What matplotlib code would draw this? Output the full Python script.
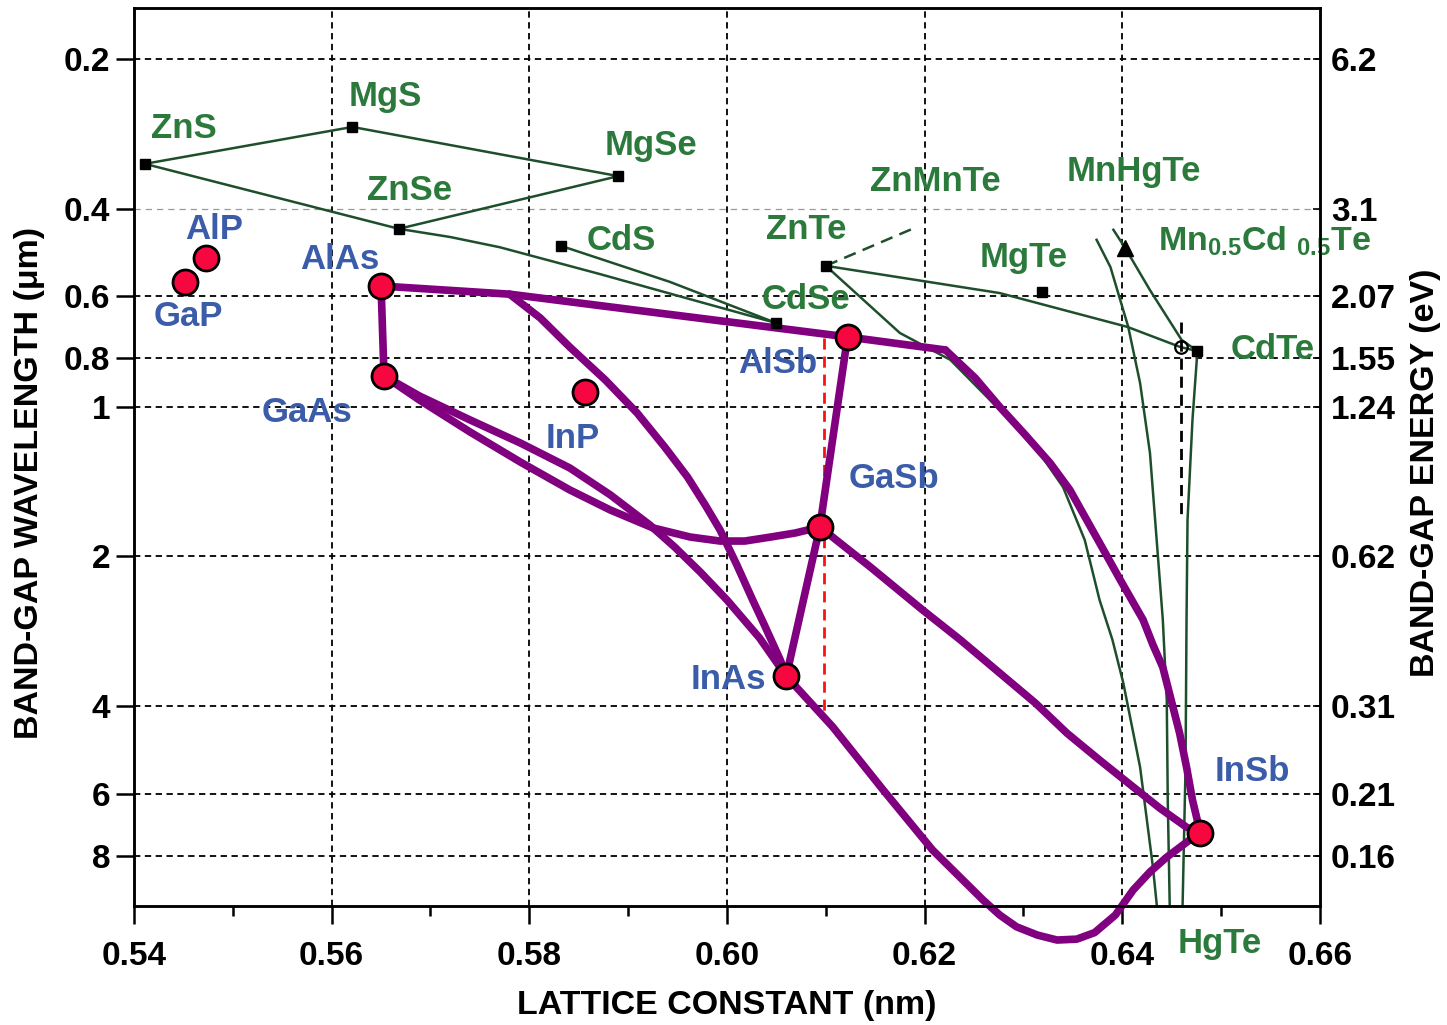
import numpy as np
import matplotlib.pyplot as plt
from matplotlib.ticker import FixedLocator, NullLocator

plt.rcParams['font.family'] = ['Liberation Sans', 'DejaVu Sans']
plt.rcParams['font.weight'] = 'bold'
plt.rcParams['mathtext.default'] = 'regular'

# axis ticks
wl_ticks = [0.2, 0.4, 0.6, 0.8, 1, 2, 4, 6, 8]
wl_labels = ['0.2', '0.4', '0.6', '0.8', '1', '2', '4', '6', '8']
ev_labels = ['6.2', '3.1', '2.07', '1.55', '1.24', '0.62', '0.31', '0.21', '0.16']
a_ticks = [0.54, 0.56, 0.58, 0.60, 0.62, 0.64, 0.66]
a_labels = ['0.54', '0.56', '0.58', '0.60', '0.62', '0.64', '0.66']
a_minor = [0.55, 0.57, 0.59, 0.61, 0.63, 0.65]

# III-V binaries (lattice constant nm, band-gap wavelength um)
iii_v_names = ['GaP', 'AlP', 'AlAs', 'GaAs', 'InP', 'AlSb', 'GaSb', 'InAs', 'InSb']
iii_v_a = [0.5452, 0.5473, 0.5650, 0.5653, 0.5856, 0.6122, 0.6094, 0.6060, 0.6479]
iii_v_wl = [0.561, 0.502, 0.572, 0.867, 0.934, 0.724, 1.745, 3.48, 7.19]
iii_v_lab_a = [0.5455, 0.5481, 0.5608, 0.5575, 0.5844, 0.6051, 0.6169, 0.6001, 0.6532]
iii_v_lab_wl = [0.660, 0.441, 0.507, 1.025, 1.156, 0.817, 1.391, 3.54, 5.42]

# II-VI binaries (square markers)
ii_vi_names = ['ZnS', 'MgS', 'MgSe', 'ZnSe', 'CdS', 'CdSe', 'ZnTe', 'MgTe', 'CdTe']
ii_vi_a = [0.5411, 0.5621, 0.5890, 0.5668, 0.5832, 0.6050, 0.6100, 0.6319, 0.6476]
ii_vi_wl = [0.325, 0.274, 0.344, 0.439, 0.475, 0.679, 0.521, 0.588, 0.773]

# green labels
green_names = ['ZnS', 'MgS', 'MgSe', 'ZnSe', 'CdS', 'ZnTe', 'ZnMnTe', 'MnHgTe',
               'MgTe', 'CdSe', 'CdTe', 'HgTe']
green_lab_a = [0.5450, 0.5654, 0.5923, 0.5679, 0.5893, 0.6080, 0.6211, 0.6412,
               0.6300, 0.6080, 0.6552, 0.6499]
green_lab_wl = [0.2766, 0.2384, 0.299, 0.367, 0.464, 0.441, 0.353, 0.336,
                0.502, 0.610, 0.769, 12.0]

mncdte_a, mncdte_wl = 0.6403, 0.480
open_a, open_wl = 0.6459, 0.759

# purple III-V alloy curves
top_a = [0.5650, 0.5780, 0.6122, 0.6221]
top_wl = [0.572, 0.594, 0.724, 0.769]
alsb_insb_a = [0.6221, 0.6251, 0.6276, 0.6302, 0.6327, 0.6347, 0.6364, 0.6381, 0.6398,
               0.6421, 0.6431, 0.6441, 0.6458, 0.6465, 0.6471, 0.6479]
alsb_insb_wl = [0.769, 0.875, 1.001, 1.140, 1.298, 1.47, 1.689, 1.94, 2.23,
                2.68, 3.01, 3.34, 4.53, 5.30, 6.17, 7.19]
alas_gaas_a = [0.5650, 0.5653]
alas_gaas_wl = [0.572, 0.867]
gaas_inas_a = [0.5653, 0.5689, 0.5740, 0.5791, 0.5841, 0.5882, 0.5922, 0.5947,
               0.5973, 0.6000, 0.6033, 0.6060]
gaas_inas_wl = [0.867, 0.952, 1.063, 1.183, 1.328, 1.504, 1.729, 1.914,
                2.149, 2.446, 2.917, 3.48]
gaas_gasb_a = [0.5653, 0.5689, 0.5740, 0.5791, 0.5841, 0.5882, 0.5925, 0.5963,
               0.5993, 0.6018, 0.6044, 0.6069, 0.6094]
gaas_gasb_wl = [0.867, 0.970, 1.124, 1.292, 1.47, 1.613, 1.752, 1.828,
                1.862, 1.862, 1.828, 1.794, 1.745]
kink_inas_a = [0.5780, 0.5811, 0.5841, 0.5877, 0.5909, 0.5937, 0.5960, 0.5978,
               0.5993, 0.6010, 0.6026, 0.6038, 0.6054, 0.6060]
kink_inas_wl = [0.594, 0.663, 0.759, 0.884, 1.029, 1.205, 1.384, 1.576,
                1.769, 2.08, 2.446, 2.75, 3.23, 3.48]
alsb_gasb_a = [0.6122, 0.6094]
alsb_gasb_wl = [0.724, 1.745]
gasb_inas_a = [0.6094, 0.6060]
gasb_inas_wl = [1.745, 3.48]
gasb_insb_a = [0.6094, 0.6145, 0.6198, 0.6236, 0.6276, 0.6312, 0.6344, 0.6377,
               0.6411, 0.6438, 0.6465, 0.6479]
gasb_insb_wl = [1.745, 2.099, 2.562, 2.94, 3.43, 3.94, 4.53, 5.13,
                5.81, 6.41, 7.0, 7.19]
inas_insb_a = [0.6060, 0.6107, 0.6158, 0.6208, 0.6259, 0.6276, 0.6293, 0.6314,
               0.6334, 0.6354, 0.6372, 0.6393, 0.6411, 0.6428, 0.6445, 0.6468, 0.6479]
inas_insb_wl = [3.48, 4.40, 5.89, 7.78, 9.80, 10.51, 11.1, 11.53,
                11.8, 11.75, 11.4, 10.51, 9.36, 8.61, 8.04, 7.43, 7.19]

# green II-VI alloy lines
zns_mgs_mgse_a = [0.5411, 0.5621, 0.5890, 0.5668, 0.5411]
zns_mgs_mgse_wl = [0.325, 0.274, 0.344, 0.439, 0.325]
znse_cdse_a = [0.5668, 0.5720, 0.5770, 0.5871, 0.5973, 0.6050]
znse_cdse_wl = [0.439, 0.456, 0.478, 0.541, 0.616, 0.679]
cds_cdse_a = [0.5832, 0.5942, 0.6050]
cds_cdse_wl = [0.475, 0.561, 0.679]
znte_cdte_a = [0.6100, 0.6276, 0.6405, 0.6459, 0.6476]
znte_cdte_wl = [0.521, 0.591, 0.691, 0.759, 0.773]
znte_hgte_a = [0.6100, 0.6175, 0.6226, 0.6276, 0.6312, 0.6340, 0.6362, 0.6377,
               0.6390, 0.6401, 0.6418, 0.6431, 0.6435]
znte_hgte_wl = [0.521, 0.711, 0.805, 1.015, 1.205, 1.45, 1.853, 2.446,
                2.94, 3.59, 5.30, 8.42, 10.08]
mnhgte_a = [0.6374, 0.6388, 0.6406, 0.6418, 0.6428, 0.6441, 0.6445, 0.6446, 0.6448]
mnhgte_wl = [0.462, 0.524, 0.691, 0.896, 1.239, 2.68, 3.89, 6.17, 10.08]
mncdte_line_a = [0.6391, 0.6403, 0.6428, 0.6460, 0.6476]
mncdte_line_wl = [0.441, 0.480, 0.583, 0.734, 0.773]
cdte_hgte_a = [0.6476, 0.6471, 0.6466, 0.6465, 0.6464, 0.6461]
cdte_hgte_wl = [0.773, 1.063, 1.689, 2.68, 5.30, 10.08]
znmnte_a = [0.6100, 0.6190]
znmnte_wl = [0.521, 0.437]

red_dash_a = [0.6098, 0.6098]
red_dash_wl = [0.728, 4.13]
black_dash_a = [0.6459, 0.6459]
black_dash_wl = [0.676, 1.689]

purple = '#800080'
line_green = '#1e4f2c'
text_green = '#2b7a3c'
text_blue = '#3b5ca8'
dot_red = '#f7073f'

fig = plt.figure(figsize=(14.47, 10.25), dpi=100)
ax = fig.add_axes([0.0926, 0.1161, 0.8196, 0.8761])
ax.set_yscale('log')
ax.set_xlim(0.54, 0.66)
ax.set_ylim(10.08, 0.158)

# grid
for v in wl_ticks:
    if v == 0.4:
        ax.axhline(v, color='#9a9a9a', lw=0.9, ls=(0, (5, 4)), zorder=1)
    else:
        ax.axhline(v, color='black', lw=1.3, ls=(0, (3.5, 2.5)), zorder=1)
for v in a_ticks[1:-1]:
    ax.axvline(v, color='black', lw=1.3, ls=(0, (3.5, 2.5)), zorder=1)

# green lines
for xs, ys in [(zns_mgs_mgse_a, zns_mgs_mgse_wl), (znse_cdse_a, znse_cdse_wl),
               (cds_cdse_a, cds_cdse_wl), (znte_cdte_a, znte_cdte_wl),
               (znte_hgte_a, znte_hgte_wl), (mnhgte_a, mnhgte_wl),
               (mncdte_line_a, mncdte_line_wl), (cdte_hgte_a, cdte_hgte_wl)]:
    ax.plot(xs, ys, color=line_green, lw=1.8, solid_joinstyle='round', zorder=2)
ax.plot(znmnte_a, znmnte_wl, color=line_green, lw=1.8, ls=(0, (5, 3)), zorder=2)

ax.plot(red_dash_a, red_dash_wl, color='#ff1010', lw=2, ls=(0, (4, 2.5)), zorder=2)
ax.plot(black_dash_a, black_dash_wl, color='black', lw=2, ls=(0, (4, 2.5)), zorder=2)

# purple lines
for xs, ys in [(top_a, top_wl), (alsb_insb_a, alsb_insb_wl), (alas_gaas_a, alas_gaas_wl),
               (gaas_inas_a, gaas_inas_wl), (gaas_gasb_a, gaas_gasb_wl),
               (kink_inas_a, kink_inas_wl), (alsb_gasb_a, alsb_gasb_wl),
               (gasb_inas_a, gasb_inas_wl), (gasb_insb_a, gasb_insb_wl)]:
    ax.plot(xs, ys, color=purple, lw=5.5, solid_capstyle='round',
            solid_joinstyle='round', zorder=3)
ax.plot(inas_insb_a, inas_insb_wl, color=purple, lw=5.5, solid_capstyle='round',
        solid_joinstyle='round', zorder=3, clip_on=False)

# markers
ax.plot(ii_vi_a, ii_vi_wl, 's', color='black', ms=7.5, zorder=4)
ax.plot([mncdte_a], [mncdte_wl], '^', color='black', ms=11, zorder=4)
ax.plot([open_a], [open_wl], 'o', mfc='none', mec='black', mew=1.6, ms=9, zorder=4)
ax.plot(iii_v_a, iii_v_wl, 'o', mfc=dot_red, mec='black', mew=2, ms=18, zorder=5)

# labels
for name, x, y in zip(iii_v_names, iii_v_lab_a, iii_v_lab_wl):
    ax.text(x, y, name, color=text_blue, fontsize=25, fontweight='bold',
            ha='center', va='center', zorder=6)
for name, x, y in zip(green_names, green_lab_a, green_lab_wl):
    ax.text(x, y, name, color=text_green, fontsize=25, fontweight='bold',
            ha='center', va='center', zorder=6, clip_on=False)
ax.text(0.6436, 0.485, r'Mn$_{0.5}$Cd $_{0.5}$Te', color=text_green, fontsize=24.5,
        fontweight='bold', ha='left', va='baseline', zorder=6, clip_on=False)

# axes styling
for sp in ax.spines.values():
    sp.set_linewidth(1.8)
ax.xaxis.set_major_locator(FixedLocator(a_ticks))
ax.set_xticklabels(a_labels)
ax.xaxis.set_minor_locator(FixedLocator(a_minor))
ax.yaxis.set_major_locator(FixedLocator(wl_ticks))
ax.yaxis.set_minor_locator(NullLocator())
ax.set_yticklabels(wl_labels)
ax.tick_params(axis='x', which='major', direction='out', length=13, width=1.8,
               labelsize=24, pad=12)
ax.tick_params(axis='x', which='minor', direction='out', length=7, width=1.8)
ax.tick_params(axis='y', which='major', direction='out', length=13, width=1.8,
               labelsize=24, pad=4)

ax2 = ax.twinx()
ax2.set_yscale('log')
ax2.set_ylim(ax.get_ylim())
ax2.yaxis.set_major_locator(FixedLocator(wl_ticks))
ax2.yaxis.set_minor_locator(NullLocator())
ax2.set_yticklabels(ev_labels)
ax2.tick_params(axis='y', direction='in', length=5, width=1.2, labelsize=24, pad=8)
for sp in ax2.spines.values():
    sp.set_linewidth(1.8)

ax.set_xlabel('LATTICE CONSTANT (nm)', fontsize=24.5, fontweight='bold')
ax.set_ylabel('BAND-GAP WAVELENGTH (\u03bcm)', fontsize=24.5, fontweight='bold')
ax2.set_ylabel('BAND-GAP ENERGY (eV)', fontsize=24.5, fontweight='bold')
ax.xaxis.set_label_coords(0.5, -0.093)
ax.yaxis.set_label_coords(-0.075, 0.471)
ax2.yaxis.set_label_coords(1.076, 0.483)

fig.savefig('out.png', dpi=100)
